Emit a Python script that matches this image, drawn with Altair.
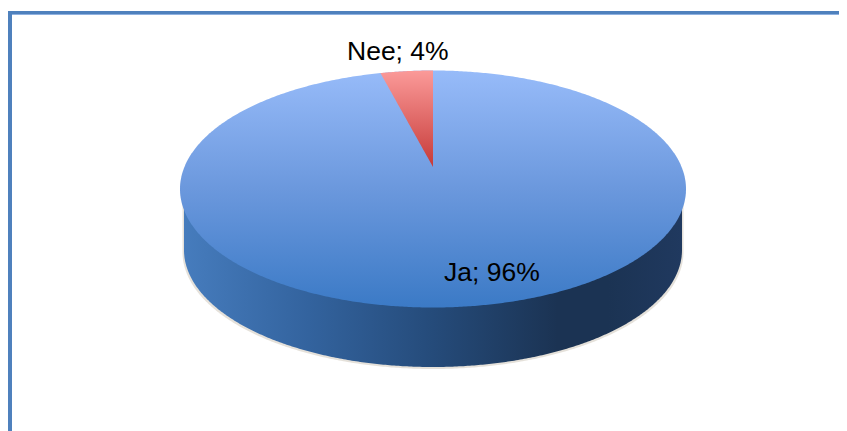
import numpy as np
import pandas as pd
import altair as alt

# Chart values
categories = ["Ja", "Nee"]
shares = [96, 4]

# Layout of the tilted pie (page pixels minus the 8px body margin)
W, H = 831, 423
CX, CY, RX, RY = 425, 181, 253, 118.5      # top face
WALL_RX, WALL_CY, WALL_RY = 249, 242, 117  # bottom rim
TIP_Y = 159                                 # visual apex of the small slice
FORESHORTEN = 0.835

t = np.linspace(np.pi, 0, 361)
face = pd.DataFrame({
    "x": CX + RX * np.cos(t),
    "top": CY - RY * np.sin(t),
    "bottom": CY + RY * np.sin(t),
})
wall = pd.DataFrame({
    "x": CX + WALL_RX * np.cos(t),
    "top": CY,
    "bottom": WALL_CY + WALL_RY * np.sin(t),
})
shadow = pd.DataFrame({
    "x": CX + (WALL_RX + 1.5) * np.cos(t),
    "top": CY,
    "bottom": WALL_CY + 2 + WALL_RY * np.sin(t),
})

# small slice: from 12 o'clock counter-clockwise by its share
u_edge = FORESHORTEN * np.sin(shares[1] / 100 * 2 * np.pi)
u = np.linspace(-u_edge, 0, 40)
rim = CY - RY * np.sqrt(1 - u ** 2)
edge_y = rim[0]
slice_df = pd.DataFrame({
    "x": CX + RX * u,
    "top": rim,
    "bottom": TIP_Y + (edge_y - TIP_Y) * (-u / u_edge),
})

xs = alt.X("x:Q", scale=alt.Scale(domain=[0, W], nice=False, zero=False), axis=None)
ys = alt.Y("top:Q", scale=alt.Scale(domain=[H, 0], nice=False, zero=False), axis=None, stack=None)
y2 = alt.Y2("bottom:Q")


def area(df, fill, **kw):
    return alt.Chart(df).mark_area(orient="vertical", fill=fill, strokeWidth=0, **kw).encode(xs, ys, y2)


def grad(stops, horizontal=False):
    return alt.Gradient(
        gradient="linear",
        stops=[alt.GradientStop(offset=o, color=c) for o, c in stops],
        x1=0, y1=0,
        x2=1 if horizontal else 0,
        y2=0 if horizontal else 1,
    )


shadow_layer = area(shadow, "#b5aa96", opacity=0.35)
wall_layer = area(wall, grad([
    (0.0, "#467cbd"), (0.25, "#33639e"), (0.5, "#254b7a"),
    (0.75, "#1b3353"), (0.85, "#1b3353"), (1.0, "#20395f"),
], horizontal=True))
face_layer = area(face, grad([(0.0, "#97bbf9"), (0.5, "#6b98dd"), (1.0, "#3b7ac6")]))
slice_layer = area(slice_df, grad([(0.0, "#fb9a99"), (1.0, "#c63a38")]))

labels = pd.DataFrame({
    "label": [f"{c}; {s}%" for c, s in zip(categories, shares)],
    "x": [436, 339],
    "y": [273, 52],
})
text_layer = alt.Chart(labels).mark_text(
    font="Liberation Sans", fontSize=26.5, align="left", baseline="alphabetic", color="#000000"
).encode(
    x=alt.X("x:Q", scale=alt.Scale(domain=[0, W], nice=False, zero=False), axis=None),
    y=alt.Y("y:Q", scale=alt.Scale(domain=[H, 0], nice=False, zero=False), axis=None),
    text="label:N",
)


def bar(color, x0, x1, y0, y1):
    return alt.Chart(pd.DataFrame({"k": [0]})).mark_rect(color=color).encode(
        x=alt.value(x0), x2=alt.value(x1), y=alt.value(y0), y2=alt.value(y1)
    )


frame = bar("#8fb1e0", 4, W, 6, 7) + bar("#4f81bd", 0, W, 3, 6) + bar("#4f81bd", 0, 4, 3, H)

chart = (
    alt.layer(shadow_layer, wall_layer, face_layer, slice_layer, text_layer, frame)
    .properties(width=W, height=H, padding=0, autosize=alt.AutoSizeParams(type="none"),
                background="#ffffff")
    .configure_view(stroke=None)
)

chart.save("out.html", embed_options={"renderer": "svg", "actions": False})
